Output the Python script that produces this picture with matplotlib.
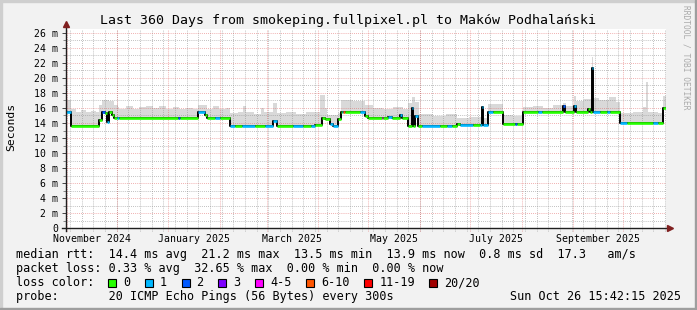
import datetime as dt

import matplotlib
matplotlib.use("Agg")
import matplotlib.pyplot as plt
from matplotlib.patches import Rectangle
import numpy as np

W, H = 697, 310
DPI = 100
MONO = "DejaVu Sans Mono"

end_time = dt.datetime(2025, 10, 26, 15, 42, 15)
start_time = end_time - dt.timedelta(days=360)

title = "Last 360 Days from smokeping.fullpixel.pl to Maków Podhalański"

# median rtt as a step series: day offset from start -> ms
median_day = [0, 3.0, 20.0, 21.4, 23.4, 24.4, 25.8, 27.4, 29.0, 30.4, 32.0,
              79.2, 83.4, 84.6, 98.4, 124.4, 126.4, 149.4, 153.4, 155.4,
              158.4, 160.4, 163.4, 165.0, 179.4, 181.4, 193.4, 195.4, 200.4,
              201.4, 205.4, 207.4, 208.4, 209.4, 211.4, 234.4, 236.4, 249.4,
              250.4, 253.4, 262.4, 274.2, 298.4, 299.4, 304.8, 305.8, 313.4,
              314.4, 315.4, 316.4, 332.4, 358.4]
median_ms = [15.4, 13.6, 14.4, 15.5, 15.3, 14.2, 15.4, 15.0, 14.6, 14.7, 14.6,
             15.4, 15.0, 14.6, 13.6, 14.3, 13.65, 13.8, 14.6, 14.5,
             13.9, 13.6, 14.5, 15.5, 14.9, 14.6, 14.8, 14.6, 15.1,
             14.6, 13.6, 16.0, 13.6, 14.9, 13.6, 13.9, 13.8, 16.1,
             13.8, 15.5, 13.9, 15.4, 16.2, 15.45, 16.3, 15.45, 15.9,
             15.45, 21.3, 15.5, 13.95, 16.0]

# packet loss class of the median line: day offset -> index into loss_labels
loss_day = [0, 3, 21.4, 23.4, 24.4, 25.8, 30.4, 32, 67, 68.2, 79.2, 83.4,
            89.4, 92.4, 98.4, 101.4, 105.4, 113.4, 119.4, 126.4, 136, 142,
            147, 149.4, 158.4, 163.4, 165.4, 166.4, 167.4, 176.4, 179.4,
            189.4, 190.4, 193.4, 195.4, 200.4, 201.4, 207.4, 208.4, 209.4,
            211.4, 213.4, 224.4, 228.4, 231.4, 236.4, 244.4, 248.4, 256,
            269.4, 270.4, 283.4, 285.4, 298.4, 299.4, 304.8, 305.8, 315.4,
            320.4, 324.4, 326.4, 332.4, 336.4, 352.4, 355.4]
loss_cls = [1, 0, 2, 0, 1, 0, 1, 0, 2, 0, 1, 0,
            1, 0, 1, 0, 1, 0, 1, 0, 1, 0,
            1, 0, 1, 0, 1, 5, 0, 1, 0,
            4, 0, 1, 0, 1, 0, 1, 0, 1,
            0, 1, 0, 1, 0, 1, 0, 1, 0,
            2, 0, 1, 0, 2, 0, 1, 0, 1,
            0, 1, 0, 1, 0, 1, 0]

# upper edge of the smoke (slowest pings)
smoke_day = [0, 3, 6, 9, 12, 15, 18, 20, 21.4, 26, 29, 31, 32, 36, 40, 44,
             48, 52, 56, 60, 64, 68, 72, 76, 79.2, 84.6, 88, 92, 96, 98.4,
             103, 106, 108, 113, 117, 119, 124.4, 126.4, 132, 138, 144, 150,
             152.4, 155.4, 156.4, 163.4, 165, 172, 179.4, 184, 190, 196, 202,
             205.4, 207.4, 209.4, 212, 220, 228, 234.4, 242, 249.4, 250.4,
             253.4, 262.4, 268, 274.2, 280, 286, 292, 298.4, 300, 304.8, 306,
             311, 315.4, 316.4, 320, 326, 330, 332.4, 340, 346, 348, 349.2,
             355, 358.4]
smoke_ms = [17.1, 15.8, 15.5, 15.7, 15.4, 15.6, 15.4, 16.4, 17.1, 16.9, 16.4,
            16.1, 15.9, 16.2, 15.8, 16.1, 16.3, 16.0, 16.2, 15.9, 16.1, 15.8,
            16.0, 15.9, 16.4, 15.9, 16.2, 15.8, 16.0, 15.3, 15.5, 16.2, 15.4,
            15.2, 16.0, 15.4, 16.6, 15.3, 15.5, 15.2, 15.4, 15.5, 17.7, 16.0,
            15.0, 15.3, 17.1, 16.9, 16.4, 16.0, 15.8, 16.1, 15.9, 16.6, 17.4,
            16.8, 15.2, 14.9, 15.2, 14.6, 14.8, 16.3, 14.6, 16.5, 15.0, 14.9,
            16.1, 16.3, 16.0, 16.4, 16.6, 16.2, 17.6, 16.9, 17.2, 22.8, 17.3,
            17.0, 17.5, 16.8, 15.3, 15.5, 16.1, 19.5, 15.4, 15.3, 17.6]

loss_labels = ["0", "1", "2", "3", "4-5", "6-10", "11-19", "20/20"]
loss_colors = ["#26ff00", "#00b8ff", "#0059ff", "#7e00ff", "#ff00ff",
               "#ff5500", "#ff0000", "#a10000"]

month_labels = ["November 2024", "January 2025", "March 2025", "May 2025",
                "July 2025", "September 2025"]
y_ticks = list(range(0, 27, 2))

rtt_line = "median rtt:  14.4 ms avg  21.2 ms max  13.5 ms min  13.9 ms now  0.8 ms sd  17.3   am/s"
loss_line = "packet loss: 0.33 % avg  32.65 % max  0.00 % min  0.00 % now"
probe_line = "probe:       20 ICMP Echo Pings (56 Bytes) every 300s"
stamp = "Sun Oct 26 15:42:15 2025"


def days(t):
    return (t - start_time).total_seconds() / 86400.0


def step_at(xs, vals, x):
    idx = np.searchsorted(xs, x, side="right") - 1
    return np.asarray(vals)[np.clip(idx, 0, len(vals) - 1)]


def fx(px):
    return px / W


def fy(py):
    return 1 - py / H


fig = plt.figure(figsize=(W / DPI, H / DPI), dpi=DPI, facecolor="#f2f2f2")
ax = fig.add_axes([fx(66), fy(228.3), 600 / W, 199.3 / H])
ax.set_facecolor("white")
ax.set_xlim(0, 360)
ax.set_ylim(0, 26.5)
for s in ax.spines.values():
    s.set_visible(False)

# grid: weekly (Sundays) and 1 ms minor, month and 2 ms major
dot = (0, (1, 1.5))
sunday = dt.datetime(2024, 11, 3)
while sunday < end_time:
    ax.axvline(days(sunday), ymin=-0.012, color="#8f8f8f", alpha=0.75,
               lw=0.6, ls=dot, zorder=2.5, clip_on=False)
    sunday += dt.timedelta(days=7)
for v in range(1, 27, 2):
    ax.axhline(v, color="#8f8f8f", alpha=0.75, lw=0.6, ls=dot, zorder=2.5)
month_starts = [dt.datetime(2024 + (10 + i) // 12, (10 + i) % 12 + 1, 1) for i in range(13)]
for m in month_starts:
    if m < end_time:
        ax.axvline(days(m), ymin=-0.015, color="#de5050", alpha=0.6,
                   lw=0.6, ls=dot, zorder=2.5, clip_on=False)
for v in y_ticks[1:]:
    ax.axhline(v, color="#de5050", alpha=0.6, lw=0.6, ls=dot, zorder=2.5)

# smoke
xs = np.array(sorted(set(median_day + smoke_day + [360])))
low = step_at(median_day, median_ms, xs)
high = np.maximum(step_at(smoke_day, smoke_ms, xs), low)
ax.fill_between(xs, low, high, step="post", color="#d9d9d9", lw=0, zorder=2)

# median line: black steps, coloured by loss
ax.step(median_day + [360], median_ms + [median_ms[-1]], where="post",
        color="black", lw=1.4, zorder=3)
breaks = sorted(set(median_day + loss_day)) + [360]
for a, b in zip(breaks[:-1], breaks[1:]):
    val = step_at(median_day, median_ms, a)
    cls = step_at(loss_day, loss_cls, a)
    ax.hlines(val, a, b, color=loss_colors[cls], lw=1.9, zorder=4)

# axes with arrows
ax.plot([-2.4, 361.5], [0, 0], color="#1f1f1f", lw=1.0, clip_on=False, zorder=6)
ax.plot([0, 0], [-0.4, 27.0], color="#1f1f1f", lw=1.0, clip_on=False, zorder=6)
ax.plot(362.4, 0, marker=">", ms=4.5, color="#802020", clip_on=False, zorder=7)
ax.plot(0, 27.2, marker="^", ms=4.5, color="#802020", clip_on=False, zorder=7)

# tick labels
label_pos = []
for m in month_starts[:-1:2]:
    nxt = month_starts[month_starts.index(m) + 1]
    label_pos.append((days(m) + days(nxt)) / 2)
ax.set_xticks(label_pos)
ax.set_xticklabels(month_labels, fontfamily=MONO, fontsize=7.1)
ax.tick_params(axis="x", length=0, pad=4)
ax.set_yticks(y_ticks)
ax.set_yticklabels([f"{v} m" if v else "0" for v in y_ticks],
                   fontfamily=MONO, fontsize=7.1)
ax.set_yticks(range(1, 27, 2), minor=True)
ax.tick_params(axis="y", which="major", length=3, width=0.7, color="#444444", pad=2.5)
ax.tick_params(axis="y", which="minor", length=2, width=0.7, color="#888888")

fig.text(fx(11), fy(127), "Seconds", rotation=90, ha="center", va="center",
         fontfamily=MONO, fontsize=8.2)
fig.text(fx(347.5), fy(24), title, ha="center", va="baseline",
         fontfamily=MONO, fontsize=9.55)
fig.text(fx(686), fy(57), "RRDTOOL / TOBI OETIKER", rotation=270,
         ha="center", va="center", fontfamily=MONO, fontsize=5.7, color="#aaaaaa")

# legend rows
leg_size = 8.45
cw = 0.602 * leg_size * DPI / 72
fig.text(fx(16), fy(258.3), rtt_line, fontfamily=MONO, fontsize=leg_size, va="baseline")
fig.text(fx(16), fy(272.2), loss_line, fontfamily=MONO, fontsize=leg_size, va="baseline")
fig.text(fx(16), fy(286.1), "loss color:", fontfamily=MONO, fontsize=leg_size, va="baseline")
fig.text(fx(16), fy(300), probe_line, fontfamily=MONO, fontsize=leg_size, va="baseline")
fig.text(fx(680.5), fy(300), stamp, fontfamily=MONO, fontsize=leg_size,
         va="baseline", ha="right")

bx = 16 + 13 * cw
for lab, col in zip(loss_labels, loss_colors):
    fig.add_artist(Rectangle((fx(bx), fy(286.6)), 8 / W, 8 / H, facecolor=col,
                             edgecolor="black", lw=0.8, transform=fig.transFigure))
    tx = bx + 15
    fig.text(fx(tx), fy(286.1), lab, fontfamily=MONO, fontsize=leg_size, va="baseline")
    bx = tx + len(lab) * cw + 14.8

# frame shading
fig.add_artist(Rectangle((0, 1 - 2 / H), 1, 2 / H, color="#cfcfcf", transform=fig.transFigure))
fig.add_artist(Rectangle((0, 0), 2 / W, 1, color="#cfcfcf", transform=fig.transFigure))
fig.add_artist(Rectangle((0, 0), 1, 2 / H, color="#9e9e9e", transform=fig.transFigure))
fig.add_artist(Rectangle((1 - 2 / W, 0), 2 / W, 1, color="#9e9e9e", transform=fig.transFigure))

fig.savefig("out.png", dpi=DPI, facecolor=fig.get_facecolor())
